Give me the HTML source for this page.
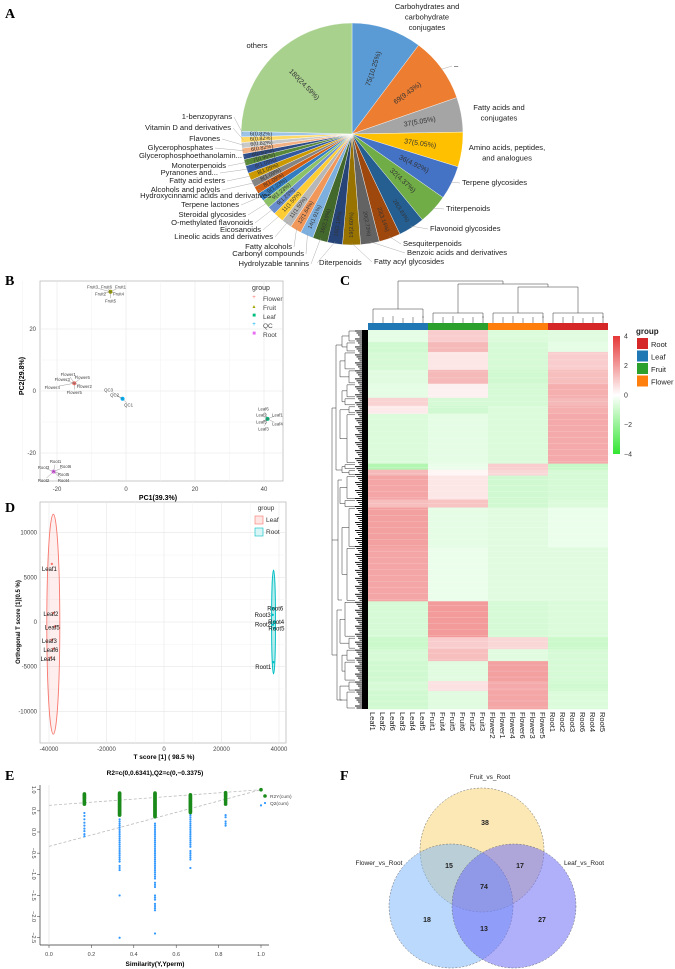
<!DOCTYPE html>
<html><head><meta charset="utf-8"><style>
body{margin:0;background:#fff}
svg{display:block;font-family:"Liberation Sans",sans-serif}
.pl{font-family:"Liberation Serif",serif;font-weight:bold;font-size:14px}
</style></head><body>
<svg id="s" width="675" height="969" viewBox="0 0 675 969">
<g id="pie"></g>
<g id="pca"></g>
<g id="hm"></g>
<g id="opls"></g>
<g id="perm"></g>
<g id="venn"></g>
<text class="pl" x="5" y="18">A</text>
<text class="pl" x="5" y="285">B</text>
<text class="pl" x="340" y="285">C</text>
<text class="pl" x="5" y="512">D</text>
<text class="pl" x="5" y="780">E</text>
<text class="pl" x="340" y="780">F</text>
</svg>
<script>
const NS='http://www.w3.org/2000/svg';
function mk(p,tag,at,txt){const e=document.createElementNS(NS,tag);for(const k in at)e.setAttribute(k,at[k]);if(txt!==undefined)e.textContent=txt;p.appendChild(e);return e;}

/* ---------- A: pie ---------- */
const pieCats=["Carbohydrates and carbohydrate conjugates","–","Fatty acids and conjugates","Amino acids, peptides, and analogues","Terpene glycosides","Triterpenoids","Flavonoid glycosides","Sesquiterpenoids","Benzoic acids and derivatives","Fatty acyl glycosides","Diterpenoids","Hydrolyzable tannins","Carbonyl compounds","Fatty alcohols","Lineolic acids and derivatives","Eicosanoids","O-methylated flavonoids","Steroidal glycosides","Terpene lactones","Hydroxycinnamic acids and derivatives","Alcohols and polyols","Fatty acid esters","Pyranones and...","Monoterpenoids","Glycerophosphoethanolamin...","Glycerophosphates","Flavones","Vitamin D and derivatives","1-benzopyrans","others"];
const pieCounts=[75,69,37,37,36,32,28,23,20,19,16,16,14,12,11,11,9,9,9,8,8,8,8,7,6,6,6,6,6,180];
const palette=["#5B9BD5","#ED7D31","#A5A5A5","#FFC000","#4472C4","#70AD47","#255E91","#9E480E","#636363","#997300","#264478","#43682B","#7CAFDD","#F1975A","#B7B7B7","#FFCD33","#698ED0","#8CC168","#327DC2","#D26012","#848484","#CC9A00","#335AA1","#5A8A39","#2E4D87","#F4B183","#C9C9C9","#FFD966","#9DC3E6"];
(function(){
 const g=document.getElementById('pie');const cx=352,cy=134,r=111;
 const tot=pieCounts.reduce((a,b)=>a+b,0);let a0=0;
 const pt=(a,rr)=>[cx+rr*Math.sin(a),cy-rr*Math.cos(a)];
 const mids=[];
 pieCounts.forEach((c,i)=>{
  const a1=a0+c/tot*2*Math.PI;const p0=pt(a0,r),p1=pt(a1,r);
  const col=i===pieCounts.length-1?"#A9D18E":palette[i%palette.length];
  const s=mk(g,'path',{d:`M${cx},${cy}L${p0[0]},${p0[1]}A${r},${r} 0 ${a1-a0>Math.PI?1:0} 1 ${p1[0]},${p1[1]}Z`,fill:col,stroke:'#fff','stroke-width':0.4});
  
  
  const am=(a0+a1)/2;mids.push(am);const big=c>30;const lp=pt(am,big?r*0.62:r*0.82);
  let deg=am*180/Math.PI-90;if(am>Math.PI)deg+=180;
  const t=mk(g,'text',{x:lp[0],y:lp[1],'font-size':big?7:5.5,'text-anchor':'middle','dominant-baseline':'middle',fill:'#333',transform:`rotate(${deg} ${lp[0]} ${lp[1]})`},`${c}(${(c/tot*100).toFixed(2)}%)`);
  
  
  a0=a1;});
 const L=[[0,427,7,'middle'],[1,454,66,'start'],[2,499,108,'middle'],[3,507,148,'middle'],[4,462,183,'start'],[5,446,209,'start'],[6,430,229,'start'],[7,403,244,'start'],[8,407,253,'start'],[9,374,262,'start'],[10,319,263,'start'],[11,309,264,'end'],[12,304,254,'end'],[13,292,247,'end'],[14,273,237,'end'],[15,261,230,'end'],[16,253,223,'end'],[17,246,215,'end'],[18,239,205,'end'],[19,271,196,'end'],[20,220,190,'end'],[21,225,181,'end'],[22,218,173,'end'],[23,226,166,'end'],[24,242,156,'end'],[25,213,148,'end'],[26,220,139,'end'],[27,231,128,'end'],[28,232,117,'end'],[29,257,46,'middle']];
 const split={0:["Carbohydrates and","carbohydrate","conjugates"],2:["Fatty acids and","conjugates"],3:["Amino acids, peptides,","and analogues"]};
 L.forEach(([i,x,y,an])=>{
  const lines=split[i]||[pieCats[i]];
  if(an!=='middle'){const e=pt(mids[i],r-2);const lx=an==='start'?x-2:x+2;
   mk(g,'polyline',{points:`${lx},${y} ${e[0]},${e[1]}`,fill:'none',stroke:'#999','stroke-width':0.4});}
  lines.forEach((ln,k)=>{const t=mk(g,'text',{x:x,y:y+k*10.5,'font-size':7.6,'text-anchor':an,'dominant-baseline':'middle',fill:'#222'},ln);
   
   });
 });
})();

/* ---------- B: PCA ---------- */
const pcaGroups=["Flower","Fruit","Leaf","QC","Root"];
const pcaPC1=[-15,-4.5,41,-1,-21];
const pcaPC2=[2.5,32,-9,-2.5,-26];
const pcaXTicks=[-20,0,20,40];
const pcaYTicks=[20,0,-20];
(function(){
 const g=document.getElementById('pca');
 const X=v=>126+v*3.45,Y=v=>391-v*3.1;
 mk(g,'rect',{x:40,y:281,width:243,height:200,fill:'#fff',stroke:'#bbb','stroke-width':0.8});
 [-30,-10,10,30].forEach(v=>mk(g,'line',{x1:X(v),x2:X(v),y1:281,y2:481,stroke:'#f2f2f2','stroke-width':0.5}));
 pcaXTicks.forEach(v=>{mk(g,'line',{x1:X(v),x2:X(v),y1:281,y2:481,stroke:'#e6e6e6','stroke-width':0.6});mk(g,'text',{x:X(v),y:491,'font-size':6,'text-anchor':'middle',fill:'#444'},v);});
 pcaYTicks.forEach(v=>{mk(g,'line',{x1:40,x2:283,y1:Y(v),y2:Y(v),stroke:'#e6e6e6','stroke-width':0.6});mk(g,'text',{x:36,y:Y(v)+2,'font-size':6,'text-anchor':'end',fill:'#444'},v);});
 [10,-10].forEach(v=>mk(g,'line',{x1:40,x2:283,y1:Y(v),y2:Y(v),stroke:'#f2f2f2','stroke-width':0.5}));
 mk(g,'text',{x:158,y:500,'font-size':7,'font-weight':'bold','text-anchor':'middle'},'PC1(39.3%)');
 mk(g,'text',{x:24,y:376,'font-size':7,'font-weight':'bold','text-anchor':'middle',transform:'rotate(-90 24 376)'},'PC2(29.8%)');
 const cols=["#F8766D","#A3A500","#00BF7D","#00B0F6","#E76BF3"];
 const labs={0:[["Flower1",-6,-9],["Flower6",8,-6],["Flower3",-12,-4],["Flower2",10,3],["Flower4",-22,4],["Flower5",0,9]],1:[["Fruit3",-18,-5],["Fruit6",-4,-5],["Fruit1",10,-5],["Fruit2",-10,2],["Fruit4",8,2],["Fruit5",0,9]],2:[["Leaf6",-4,-10],["Leaf2",-6,-4],["Leaf1",10,-4],["Leaf5",-6,3],["Leaf4",10,5],["Leaf3",-4,10]],3:[["QC3",-14,-9],["QC2",-8,-4],["QC1",6,6]],4:[["Root1",2,-10],["Root3",-10,-4],["Root6",12,-5],["Root5",10,3],["Root2",-10,9],["Root4",10,9]]};
 pcaGroups.forEach((gr,i)=>{
  const x=X(pcaPC1[i]),y=Y(pcaPC2[i]);
  const p=mk(g,'circle',{cx:x,cy:y,r:2,fill:cols[i]});
  
  
  (labs[i]||[]).forEach(([t,dx,dy])=>{mk(g,'line',{x1:x,y1:y,x2:x+dx*0.7,y2:y+dy*0.7,stroke:'#555','stroke-width':0.3});mk(g,'text',{x:x+dx,y:y+dy+1.5,'font-size':4.3,'text-anchor':'middle',fill:'#444'},t);});
  mk(g,'text',{x:254,y:299+i*9,'font-size':i===1?5:6,'text-anchor':'middle',fill:cols[i]},['+','▲','■','+','■'][i]);
  mk(g,'text',{x:263,y:301+i*9,'font-size':6.5,fill:'#444'},gr);
 });
 mk(g,'text',{x:261,y:290,'font-size':7,fill:'#333','text-anchor':'middle'},'group');
})();

/* ---------- C: heatmap ---------- */
const hmCols=["Leaf1","Leaf2","Leaf6","Leaf3","Leaf4","Leaf5","Fruit1","Fruit4","Fruit5","Fruit6","Fruit2","Fruit3","Flower2","Flower1","Flower4","Flower6","Flower3","Flower5","Root1","Root2","Root3","Root6","Root4","Root5"];
const hmGroups=["Leaf","Fruit","Flower","Root"];
const hmBlocks=[[6,-0.5,1.0,-0.7,-0.6],[5,-0.9,1.4,-0.8,-0.5],[9,-0.8,0.5,-0.8,1.0],[7,-0.6,1.4,-0.9,1.3],[7,-0.5,0.3,-0.8,1.6],[4,0.9,-0.8,-0.8,1.4],[4,0.4,-0.9,-0.7,1.6],[25,-0.7,-0.5,-0.7,1.7],[3,-1.5,-0.4,1.0,-1.1],[3,1.4,0.2,0.8,-0.8],[12,1.8,0.5,-0.9,-0.8],[4,1.3,1.2,-0.9,-0.7],[20,1.9,-0.5,-0.6,-0.4],[27,1.8,-0.4,-0.6,-0.6],[18,-0.8,2.0,-0.8,-0.7],[6,-1.0,1.0,0.8,-1.0],[6,-0.8,1.3,-0.6,-0.8],[10,-0.9,-0.6,1.9,-0.8],[5,-0.8,0.6,1.7,-0.9],[9,-0.9,-0.6,1.8,-0.7]];
const hmLegendTicks=[4,2,0,-2,-4];
(function(){
 const g=document.getElementById('hm');
 const x0=368,cw=10,y0=330,y1=709;
 const nRows=hmBlocks.reduce((a,b)=>a+b[0],0);const rh=(y1-y0)/nRows;
 const col=v=>{v=Math.max(-4,Math.min(4,v));if(v>=0){const t=v/4;return `rgb(${255-t*25},${255-t*200},${255-t*200})`;}const t=-v/4;return `rgb(${255-t*205},${255-t*25},${255-t*205})`;};
 let y=y0;
 hmBlocks.forEach((b)=>{
  const h=b[0]*rh;
  for(let gi=0;gi<4;gi++){const r=mk(g,'rect',{x:x0+gi*60,y:y,width:60,height:h+0.3,fill:col(b[gi+1])});
   
   }
  y+=h;});
 for(let i=0;i<nRows;i+=3){mk(g,'line',{x1:x0,x2:x0+240,y1:y0+i*rh,y2:y0+i*rh,stroke:'#fff','stroke-width':0.3,opacity:0.5});}
 const gc=["#1F77B4","#2CA02C","#FF7F0E","#D62728"];
 hmGroups.forEach((gr,i)=>{const r=mk(g,'rect',{x:x0+i*60,y:323,width:60,height:7,fill:gc[i]});
  
  });
 hmCols.forEach((c,i)=>{const cx=x0+i*cw+cw/2;mk(g,'text',{x:cx-3,y:712,'font-size':7.5,transform:`rotate(90 ${cx-3} 712)`,fill:'#222'},c);});
 const st={stroke:'#333','stroke-width':0.5,fill:'none'};
 const cxs=hmCols.map((c,i)=>x0+i*cw+5);
 for(let gi=0;gi<4;gi++){const base=gi*6;const hj=gi===0?309:313;
  for(let k=0;k<6;k++)mk(g,'line',{...st,x1:cxs[base+k],x2:cxs[base+k],y1:323,y2:318-(k%3)});
  mk(g,'path',{...st,d:`M${cxs[base]},318V${hj}H${cxs[base+5]}V318`});}
 const gcx=i=>(cxs[i*6]+cxs[i*6+5])/2;
 mk(g,'path',{...st,d:`M${gcx(2)},313V287H${gcx(3)}V313`});
 const m23=(gcx(2)+gcx(3))/2;
 mk(g,'path',{...st,d:`M${gcx(1)},313V284H${m23}V287`});
 const m123=(gcx(1)+m23)/2;
 mk(g,'path',{...st,d:`M${gcx(0)},309V281H${m123}V284`});
 for(let i=0;i<nRows;i++){const yy=y0+(i+0.5)*rh;mk(g,'line',{x1:355+(i%4)*1.5,x2:x0,y1:yy,y2:yy,stroke:'#000','stroke-width':0.9});}
 mk(g,'rect',{x:362,y:y0,width:6,height:y1-y0,fill:'#000'});
 let yy=y0;const mids=[];
 hmBlocks.forEach((b,i)=>{const h=b[0]*rh;mk(g,'path',{...st,d:`M355,${yy+1}H${349-(i%3)*2}V${yy+h-1}H355`});mids.push([yy+h/2,349-(i%3)*2]);yy+=h;});
 for(let i=0;i+1<mids.length;i+=2){const xa=342-(i%4);mk(g,'path',{...st,d:`M${mids[i][1]},${mids[i][0]}H${xa}V${mids[i+1][0]}H${mids[i+1][1]}`});}
 mk(g,'path',{...st,d:`M342,345H336V470H342M342,480H338V600H342M342,610H337V700H342`});
 mk(g,'path',{...st,d:`M336,408H332V540H338M332,540V655H337`});
 const lgY=v=>395-v*14.75;
 const gr=mk(document.querySelector('svg'),'defs',{});
 const lg=mk(gr,'linearGradient',{id:'lgc',x1:0,y1:0,x2:0,y2:1});
 mk(lg,'stop',{offset:0,'stop-color':'#E63737'});mk(lg,'stop',{offset:0.5,'stop-color':'#fff'});mk(lg,'stop',{offset:1,'stop-color':'#32E632'});
 const lb=mk(g,'rect',{x:613,y:lgY(4),width:7,height:lgY(-4)-lgY(4),fill:'url(#lgc)'});
 
 
 hmLegendTicks.forEach(v=>mk(g,'text',{x:624,y:lgY(v)+2.5,'font-size':7,fill:'#333'},v<0?'−'+(-v):v));
 mk(g,'text',{x:636,y:334,'font-size':8,'font-weight':'bold',fill:'#222'},'group');
 ["Root","Leaf","Fruit","Flower"].forEach((n,i)=>{mk(g,'rect',{x:637,y:338+i*12.5,width:11,height:11,fill:["#D62728","#1F77B4","#2CA02C","#FF7F0E"][i]});mk(g,'text',{x:651,y:347+i*12.5,'font-size':7.5,fill:'#222'},n);});
})();

/* ---------- D: OPLS-DA ---------- */
const oplsNames=["Leaf1","Leaf2","Leaf5","Leaf3","Leaf6","Leaf4","Root6","Root3","Root4","Root2","Root5","Root1"];
const oplsT=[-39000,-38500,-38000,-39000,-38500,-39500,38000,37800,38300,37900,38400,38000];
const oplsO=[6500,1000,-500,-2000,-3000,-4000,1500,800,0,-300,-700,-4500];
const oplsXTicks=[-40000,-20000,0,20000,40000];
const oplsYTicks=[10000,5000,0,-5000,-10000];
(function(){
 const g=document.getElementById('opls');
 const X=v=>164+v*0.002875,Y=v=>622-v*0.00894;
 mk(g,'rect',{x:40,y:502,width:246,height:241,fill:'#fff',stroke:'#bbb','stroke-width':0.8});
 [-30000,-10000,10000,30000].forEach(v=>mk(g,'line',{x1:X(v),x2:X(v),y1:502,y2:743,stroke:'#f3f3f3','stroke-width':0.5}));
 [7500,2500,-2500,-7500].forEach(v=>mk(g,'line',{x1:40,x2:286,y1:Y(v),y2:Y(v),stroke:'#f3f3f3','stroke-width':0.5}));
 oplsXTicks.forEach(v=>{mk(g,'line',{x1:X(v),x2:X(v),y1:502,y2:743,stroke:'#e6e6e6','stroke-width':0.6});mk(g,'text',{x:X(v),y:751,'font-size':6,'text-anchor':'middle',fill:'#444'},v);});
 oplsYTicks.forEach(v=>{mk(g,'line',{x1:40,x2:286,y1:Y(v),y2:Y(v),stroke:'#e6e6e6','stroke-width':0.6});mk(g,'text',{x:37,y:Y(v)+2,'font-size':6,'text-anchor':'end',fill:'#444'},v);});
 mk(g,'text',{x:164,y:759,'font-size':6.5,'font-weight':'bold','text-anchor':'middle'},'T score [1] ( 98.5 %)');
 mk(g,'text',{x:20,y:622,'font-size':6,'font-weight':'bold','text-anchor':'middle',transform:'rotate(-90 20 622)'},'Orthogonal T score [1](0.5 %)');
 const e1=mk(g,'ellipse',{cx:X(-38500),cy:Y(-250),rx:6.5,ry:110,fill:'rgba(248,118,109,0.12)',stroke:'#F8766D','stroke-width':0.9});
 
 
 const e2=mk(g,'ellipse',{cx:X(38100),cy:Y(0),rx:2,ry:52,fill:'rgba(0,191,196,0.3)',stroke:'#00BFC4','stroke-width':0.9});
 
 
 oplsNames.forEach((n,i)=>{const x=X(oplsT[i]),y=Y(oplsO[i]);const leaf=i<6;
  const p=mk(g,'circle',{cx:x,cy:y,r:1.2,fill:leaf?'#F8766D':'#00BFC4'});
  
  
  const right=(i===8||i===10||i===6);
  mk(g,'text',{x:leaf?x-10:(right?x-6:x-2),y:y+(leaf?(i===0?7:3):(i===11?7:2)),'font-size':6,'text-anchor':leaf?'start':(right?'start':'end'),fill:'#111'},n);
 });
 mk(g,'text',{x:266,y:510,'font-size':6.5,fill:'#333','text-anchor':'middle'},'group');
 mk(g,'rect',{x:255,y:516,width:8,height:8,fill:'#fde6e4',stroke:'#F8766D','stroke-width':0.6});
 mk(g,'text',{x:266,y:522,'font-size':6.5,fill:'#333'},'Leaf');
 mk(g,'rect',{x:255,y:528,width:8,height:8,fill:'#d9f5f6',stroke:'#00BFC4','stroke-width':0.6});
 mk(g,'text',{x:266,y:534,'font-size':6.5,fill:'#333'},'Root');
})();

/* ---------- E: permutation ---------- */
const permX=[0.167,0.333,0.5,0.667,0.833,1.0];
const permR2=[[0.9,0.88,0.86,0.84,0.82,0.8,0.78,0.75,0.72,0.7,0.68,0.66],
 [0.92,0.9,0.88,0.86,0.84,0.82,0.8,0.78,0.76,0.74,0.72,0.7,0.68,0.66,0.64,0.62,0.6,0.58,0.56,0.54,0.52,0.5,0.48,0.46,0.44,0.42,0.4],
 [0.92,0.9,0.88,0.86,0.84,0.82,0.8,0.78,0.76,0.74,0.72,0.7,0.68,0.66,0.64,0.62,0.6,0.58,0.56,0.54,0.52,0.5,0.48,0.46,0.44,0.42,0.4,0.38,0.36],
 [0.88,0.86,0.84,0.82,0.8,0.78,0.76,0.74,0.72,0.7,0.68,0.66,0.64,0.62,0.6,0.58,0.56,0.54,0.52,0.5,0.48,0.46],
 [0.93,0.9,0.87,0.84,0.8,0.77,0.74,0.7,0.66],[1.0]];
const permQ2=[[0.45,0.38,0.3,0.22,0.15,0.08,0.02,-0.05,-0.1],
 [0.3,0.25,0.2,0.15,0.1,0.05,0.0,-0.05,-0.1,-0.15,-0.2,-0.25,-0.3,-0.35,-0.4,-0.45,-0.5,-0.55,-0.6,-0.65,-0.7,-0.8,-0.85,-0.9,-1.5,-2.5],
 [0.2,0.15,0.1,0.05,0.0,-0.05,-0.1,-0.15,-0.2,-0.25,-0.3,-0.35,-0.4,-0.45,-0.5,-0.55,-0.6,-0.65,-0.7,-0.75,-0.8,-0.85,-0.9,-0.95,-1.0,-1.05,-1.1,-1.2,-1.25,-1.3,-1.5,-1.55,-1.6,-1.7,-1.75,-1.8,-1.85,-2.4],
 [0.45,0.4,0.35,0.3,0.25,0.2,0.15,0.1,0.05,0.0,-0.05,-0.1,-0.15,-0.2,-0.25,-0.3,-0.35,-0.45,-0.5,-0.55,-0.6,-0.65,-0.85],
 [0.4,0.35,0.25,0.2,0.15],[0.63]];
const permLineR2=[0.63,1.0];
const permLineQ2=[-0.34,1.0];
const permXTicks=[0,0.2,0.4,0.6,0.8,1.0];
const permYTicks=[1.0,0.5,0,-0.5,-1.0,-1.5,-2.0,-2.5];
(function(){
 const g=document.getElementById('perm');
 const X=v=>49+v*212,Y=v=>832-v*42.3;
 mk(g,'text',{x:155,y:775,'font-size':6.5,'font-weight':'bold','text-anchor':'middle'},'R2=c(0,0.6341),Q2=c(0,−0.3375)');
 mk(g,'line',{x1:40,x2:40,y1:785,y2:945,stroke:'#333','stroke-width':0.7});
 mk(g,'line',{x1:40,x2:269,y1:945,y2:945,stroke:'#333','stroke-width':0.7});
 mk(g,'line',{x1:X(0),x2:X(0),y1:785,y2:945,stroke:'#ddd','stroke-width':0.6});
 permXTicks.forEach(v=>{mk(g,'line',{x1:X(v),x2:X(v),y1:945,y2:948,stroke:'#333','stroke-width':0.5});mk(g,'text',{x:X(v),y:956,'font-size':5.5,'text-anchor':'middle',fill:'#444'},v.toFixed(1));});
 permYTicks.forEach(v=>{mk(g,'line',{x1:37,x2:40,y1:Y(v),y2:Y(v),stroke:'#333','stroke-width':0.5});const t=v.toFixed(1).replace('-','−');mk(g,'text',{x:32,y:Y(v),'font-size':5.5,'text-anchor':'middle',fill:'#444',transform:`rotate(90 32 ${Y(v)})`},t);});
 mk(g,'text',{x:155,y:966,'font-size':6.5,'font-weight':'bold','text-anchor':'middle'},'Similarity(Y,Yperm)');
 mk(g,'line',{x1:X(0),y1:Y(permLineR2[0]),x2:X(1),y2:Y(permLineR2[1]),stroke:'#bbb','stroke-width':0.8,'stroke-dasharray':'3,2'});
 mk(g,'line',{x1:X(0),y1:Y(permLineQ2[0]),x2:X(1),y2:Y(permLineQ2[1]),stroke:'#bbb','stroke-width':0.8,'stroke-dasharray':'3,2'});
 permX.forEach((xv,i)=>{
  permQ2[i].forEach(v=>{const c=mk(g,'circle',{cx:X(xv),cy:Y(v),r:1.1,fill:'#3399FF'});
   
   });
  permR2[i].forEach(v=>{const c=mk(g,'circle',{cx:X(xv),cy:Y(v),r:1.8,fill:'#1A8A1A'});
   
   });
 });
 mk(g,'circle',{cx:265,cy:796,r:1.8,fill:'#1A8A1A'});mk(g,'text',{x:270,y:798,'font-size':4.8,fill:'#444'},'R2Y(cum)');
 mk(g,'circle',{cx:265,cy:803,r:1.1,fill:'#3399FF'});mk(g,'text',{x:270,y:805,'font-size':4.8,fill:'#444'},'Q2(cum)');
})();

/* ---------- F: Venn ---------- */
const vennSets=["Fruit_vs_Root","Flower_vs_Root","Leaf_vs_Root"];
const vennRegions=["Fruit","Flower","Leaf","Fruit∩Flower","Fruit∩Leaf","All","Flower∩Leaf"];
const vennCounts=[38,18,27,15,17,74,13];
(function(){
 const g=document.getElementById('venn');
 const circ=[[482,850,"rgba(250,214,120,0.55)"],[451,906,"rgba(120,180,250,0.5)"],[514,906,"rgba(110,110,245,0.55)"]];
 circ.forEach((c,i)=>{const e=mk(g,'circle',{cx:c[0],cy:c[1],r:62,fill:c[2],stroke:'#666','stroke-width':0.5,'stroke-dasharray':'2,1.5'});
  
  });
 mk(g,'text',{x:490,y:779,'font-size':6.5,'text-anchor':'middle',fill:'#222'},vennSets[0]);
 mk(g,'text',{x:379,y:865,'font-size':6.5,'text-anchor':'middle',fill:'#222'},vennSets[1]);
 mk(g,'text',{x:584,y:865,'font-size':6.5,'text-anchor':'middle',fill:'#222'},vennSets[2]);
 const pos=[[485,825],[427,922],[542,922],[449,868],[520,868],[484,889],[484,931]];
 vennCounts.forEach((c,i)=>{const t=mk(g,'text',{x:pos[i][0],y:pos[i][1],'font-size':7,'font-weight':'bold','text-anchor':'middle',fill:'#222'},c);
  
  });
})();
</script>
</body></html>
